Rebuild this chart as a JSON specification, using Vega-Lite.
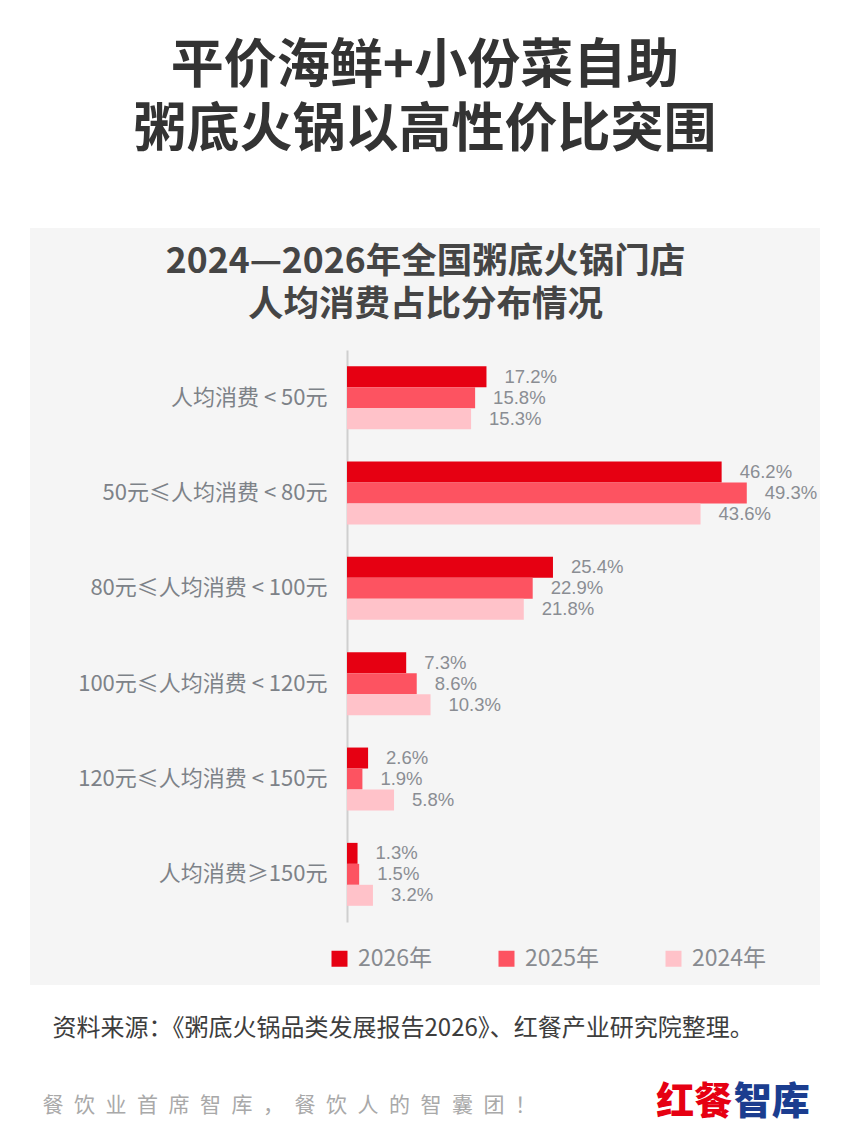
{
  "$schema": "https://vega.github.io/schema/vega-lite/v6.json",
  "width": 790,
  "height": 757,
  "autosize": "none",
  "padding": {"left": 30, "top": 228, "right": 30, "bottom": 148},
  "background": "#ffffff",
  "config": {
    "font": "Noto Sans CJK SC",
    "view": {"fill": "#f5f5f5", "stroke": null},
    "axis": {"grid": false}
  },
  "title": {
    "text": ["平价海鲜+小份菜自助", "粥底火锅以高性价比突围"],
    "anchor": "middle",
    "frame": "group",
    "fontSize": 53,
    "fontWeight": "bold",
    "color": "#333333",
    "lineHeight": 64,
    "offset": 70
  },
  "data": {
    "values": [
      {"cat": "人均消费 < 50元", "year": "2026年", "value": 0.172},
      {"cat": "人均消费 < 50元", "year": "2025年", "value": 0.158},
      {"cat": "人均消费 < 50元", "year": "2024年", "value": 0.153},
      {"cat": "50元≤人均消费 < 80元", "year": "2026年", "value": 0.462},
      {"cat": "50元≤人均消费 < 80元", "year": "2025年", "value": 0.493},
      {"cat": "50元≤人均消费 < 80元", "year": "2024年", "value": 0.436},
      {"cat": "80元≤人均消费 < 100元", "year": "2026年", "value": 0.254},
      {"cat": "80元≤人均消费 < 100元", "year": "2025年", "value": 0.229},
      {"cat": "80元≤人均消费 < 100元", "year": "2024年", "value": 0.218},
      {"cat": "100元≤人均消费 < 120元", "year": "2026年", "value": 0.073},
      {"cat": "100元≤人均消费 < 120元", "year": "2025年", "value": 0.086},
      {"cat": "100元≤人均消费 < 120元", "year": "2024年", "value": 0.103},
      {"cat": "120元≤人均消费 < 150元", "year": "2026年", "value": 0.026},
      {"cat": "120元≤人均消费 < 150元", "year": "2025年", "value": 0.019},
      {"cat": "120元≤人均消费 < 150元", "year": "2024年", "value": 0.058},
      {"cat": "人均消费≥150元", "year": "2026年", "value": 0.013},
      {"cat": "人均消费≥150元", "year": "2025年", "value": 0.015},
      {"cat": "人均消费≥150元", "year": "2024年", "value": 0.032}
    ]
  },
  "encoding": {
    "y": {
      "field": "cat",
      "type": "nominal",
      "sort": ["人均消费 < 50元", "50元≤人均消费 < 80元", "80元≤人均消费 < 100元", "100元≤人均消费 < 120元", "120元≤人均消费 < 150元", "人均消费≥150元"],
      "scale": {"range": [122, 694], "paddingInner": 0.34, "paddingOuter": 0.17},
      "axis": {
        "orient": "left",
        "offset": -317,
        "domain": true,
        "domainColor": "#cfcfcf",
        "domainWidth": 2,
        "ticks": false,
        "labelPadding": 20,
        "labelFontSize": 22,
        "labelColor": "#7d8288",
        "labelLimit": 400,
        "title": "餐\u2002饮\u2002业\u2002首\u2002席\u2002智\u2002库\u2002，\u2002餐\u2002饮\u2002人\u2002的\u2002智\u2002囊\u2002团\u2002！",
        "titleAngle": 0,
        "titleX": -305,
        "titleY": 877,
        "titleAlign": "left",
        "titleBaseline": "middle",
        "titleFontSize": 21,
        "titleFontWeight": "normal",
        "titleColor": "#a9a9a9"
      }
    },
    "yOffset": {
      "field": "year",
      "type": "nominal",
      "sort": ["2026年", "2025年", "2024年"],
      "scale": {"paddingInner": 0, "paddingOuter": 0}
    }
  },
  "layer": [
    {
      "mark": {"type": "bar"},
      "encoding": {
        "x": {
          "field": "value",
          "type": "quantitative",
          "scale": {"domain": [0, 0.55], "range": [317, 763], "nice": false, "zero": true},
          "axis": {
            "orient": "top",
            "labels": false,
            "ticks": false,
            "domain": false,
            "title": ["2024—2026年全国粥底火锅门店", "人均消费占比分布情况"],
            "titleX": 395,
            "titleY": 16,
            "titleAlign": "center",
            "titleBaseline": "top",
            "titleFontSize": 35.5,
            "titleFontWeight": "bold",
            "titleColor": "#454545",
            "titleLineHeight": 43
          }
        },
        "color": {
          "field": "year",
          "type": "nominal",
          "scale": {"domain": ["2026年", "2025年", "2024年"], "range": ["#e60012", "#fd5361", "#ffc2c9"]},
          "legend": {
            "orient": "none",
            "legendX": 298,
            "legendY": 719,
            "direction": "horizontal",
            "title": null,
            "symbolType": "square",
            "symbolSize": 256,
            "symbolStrokeWidth": 0,
            "labelFontSize": 23,
            "labelColor": "#888b90",
            "labelOffset": 7,
            "columnPadding": 62,
            "padding": 0
          }
        }
      }
    },
    {
      "mark": {"type": "text", "align": "left", "baseline": "middle", "dx": 18, "fontSize": 18.5, "font": "Liberation Sans", "color": "#8a8d93"},
      "encoding": {
        "x": {
          "field": "value",
          "type": "quantitative",
          "scale": {"domain": [0, 0.55], "range": [317, 763], "nice": false, "zero": true},
          "axis": {
            "orient": "bottom",
            "values": [0.4276, 0.5232],
            "labelExpr": "datum.value < 0.48 ? '红餐' : '智库'",
            "labelColor": {"condition": {"test": "datum.value < 0.48", "value": "#e60012"}, "value": "#1b3d8f"},
            "labelFontSize": 38,
            "labelFontWeight": 900,
            "labelPadding": 98,
            "labelFlush": false,
            "labelOverlap": false,
            "labelBound": false,
            "ticks": false,
            "domain": false,
            "title": "资料来源：《粥底火锅品类发展报告2026》、红餐产业研究院整理。",
            "titleX": 22,
            "titleY": 43,
            "titleAlign": "left",
            "titleBaseline": "middle",
            "titleFontSize": 24,
            "titleFontWeight": "normal",
            "titleColor": "#3d3d3d"
          }
        },
        "text": {"field": "value", "type": "quantitative", "format": ".1%"}
      }
    }
  ],
  "resolve": {"axis": {"x": "independent"}}
}
